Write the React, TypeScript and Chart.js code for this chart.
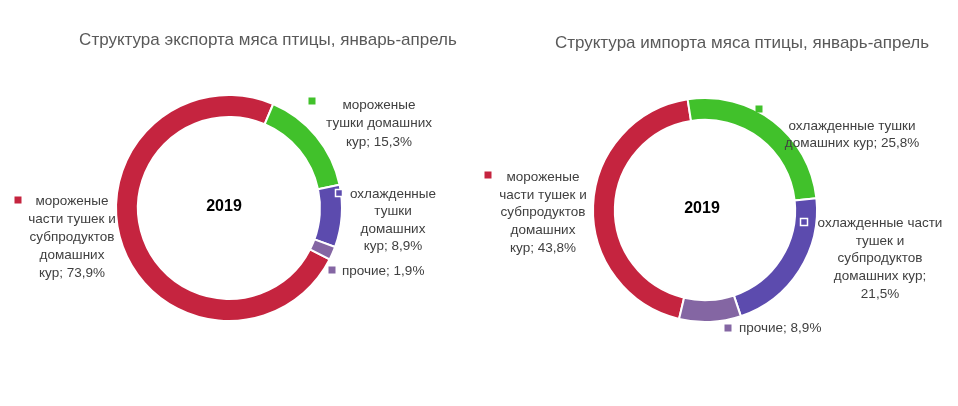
import React, { useEffect, useRef } from "react";
import { Chart, registerables } from "chart.js";

Chart.register(...registerables);

const categories = [
  "мороженые части тушек и субпродуктов домашних кур",
  "мороженые тушки домашних кур",
  "охлажденные тушки домашних кур",
  "прочие",
];
const importCategories = [
  "мороженые части тушек и субпродуктов домашних кур",
  "охлажденные тушки домашних кур",
  "охлажденные части тушек и субпродуктов домашних кур",
  "прочие",
];
const exportValues = [73.9, 15.3, 8.9, 1.9];
const importValues = [43.8, 25.8, 21.5, 8.9];
const colors = ["#C5243F", "#41C12B", "#5C4BAE", "#8466A3"];
const yearLabel = "2019";
const exportTitle = "Структура экспорта мяса птицы, январь-апрель";
const importTitle = "Структура импорта мяса птицы, январь-апрель";

const fmt = (v: number) => v.toFixed(1).replace(".", ",") + "%";

const FONT = "'Liberation Sans', Arial, sans-serif";

type LabelLayout = {
  lines: string[];
  mdx: number; mdy: number; border?: boolean;
  tdx: number; tdy: number; lh: number; align: "center" | "left";
};

const exportLayout = {
  title: exportTitle,
  titleX: 268, titleY: 40,
  padding: { left: 115, right: 136, top: 94, bottom: 84 },
  rotation: 117,
  yearDx: -5,
  yearDy: -1,
  labels: [
    { lines: ["мороженые", "части тушек и", "субпродуктов", "домашних", "кур; {v}"], mdx: -211, mdy: -8, tdx: -157, tdy: -7, lh: 18, align: "center" },
    { lines: ["мороженые", "тушки домашних", "кур; {v}"], mdx: 83, mdy: -107, tdx: 150, tdy: -103, lh: 18.5, align: "center" },
    { lines: ["охлажденные", "тушки", "домашних", "кур; {v}"], mdx: 110, mdy: -15, border: true, tdx: 164, tdy: -14, lh: 17.5, align: "center" },
    { lines: ["прочие; {v}"], mdx: 103, mdy: 62, tdx: 113, tdy: 63, lh: 18, align: "left" },
  ] as LabelLayout[],
};

const importLayout = {
  title: importTitle,
  titleX: 263, titleY: 43,
  padding: { left: 113, right: 140, top: 97, bottom: 83 },
  rotation: 193.4,
  yearDx: -3,
  yearDy: -1,
  labels: [
    { lines: ["мороженые", "части тушек и", "субпродуктов", "домашних", "кур; {v}"], mdx: -217, mdy: -35, tdx: -162, tdy: -33, lh: 17.8, align: "center" },
    { lines: ["охлажденные тушки", "домашних кур; {v}"], mdx: 54, mdy: -101, tdx: 147, tdy: -84, lh: 17, align: "center" },
    { lines: ["охлажденные части", "тушек и", "субпродуктов", "домашних кур;", "{v}"], mdx: 99, mdy: 12, border: true, tdx: 175, tdy: 13, lh: 17.8, align: "center" },
    { lines: ["прочие; {v}"], mdx: 23, mdy: 118, tdx: 34, tdy: 118, lh: 18, align: "left" },
  ] as LabelLayout[],
};

const annotPlugin = {
  id: "annot",
  afterDraw(chart: any, _args: any, opts: any) {
    const ctx = chart.ctx as CanvasRenderingContext2D;
    const meta = chart.getDatasetMeta(0);
    const arc = meta.data[0] as any;
    const cx = arc.x, cy = arc.y;
    const values = chart.data.datasets[0].data as number[];
    const cols = chart.data.datasets[0].backgroundColor as string[];
    ctx.save();
    ctx.textBaseline = "middle";
    // title
    ctx.fillStyle = "#595959";
    ctx.font = `17px ${FONT}`;
    ctx.textAlign = "center";
    ctx.fillText(opts.title, opts.titleX, opts.titleY);
    // center
    ctx.fillStyle = "#000000";
    ctx.font = `bold 16px ${FONT}`;
    ctx.fillText(opts.year, cx + opts.yearDx, cy + opts.yearDy);
    // labels
    ctx.font = `13.5px ${FONT}`;
    (opts.labels as LabelLayout[]).forEach((lab, i) => {
      const s = 7;
      const mx = cx + lab.mdx, my = cy + lab.mdy;
      ctx.fillStyle = cols[i];
      ctx.fillRect(mx - s / 2, my - s / 2, s, s);
      if (lab.border) {
        ctx.strokeStyle = "#ffffff";
        ctx.lineWidth = 1.5;
        ctx.strokeRect(mx - s / 2, my - s / 2, s, s);
      }
      ctx.fillStyle = "#404040";
      ctx.textAlign = lab.align;
      lab.lines.forEach((ln, k) => {
        ctx.fillText(ln.replace("{v}", fmt(values[i])), cx + lab.tdx, cy + lab.tdy + k * lab.lh);
      });
    });
    ctx.restore();
  },
};

function Donut({ values, labels, layout }: { values: number[]; labels: string[]; layout: any }) {
  const ref = useRef<HTMLCanvasElement>(null);
  useEffect(() => {
    if (!ref.current) return;
    const chart = new Chart(ref.current, {
      type: "doughnut",
      data: {
        labels,
        datasets: [
          {
            data: values,
            backgroundColor: colors,
            borderColor: "#ffffff",
            borderWidth: 2,
            hoverOffset: 0,
          },
        ],
      },
      options: {
        responsive: false,
        animation: false,
        cutout: "80.5%",
        rotation: layout.rotation,
        layout: { padding: layout.padding },
        plugins: {
          legend: { display: false },
          tooltip: { enabled: false },
          annot: {
            title: layout.title,
            titleX: layout.titleX,
            titleY: layout.titleY,
            year: yearLabel,
            yearDx: layout.yearDx,
            yearDy: layout.yearDy,
            labels: layout.labels,
          },
        } as any,
      },
      plugins: [annotPlugin],
    });
    return () => chart.destroy();
  }, []);
  return <canvas ref={ref} width={479} height={406} style={{ display: "block", width: 479, height: 406 }} />;
}

export default function App() {
  return (
    <div style={{ position: "absolute", left: 0, top: 0, width: 958, height: 406, background: "#ffffff", display: "flex" }}>
      <Donut values={exportValues} labels={categories} layout={exportLayout} />
      <Donut values={importValues} labels={importCategories} layout={importLayout} />
    </div>
  );
}
